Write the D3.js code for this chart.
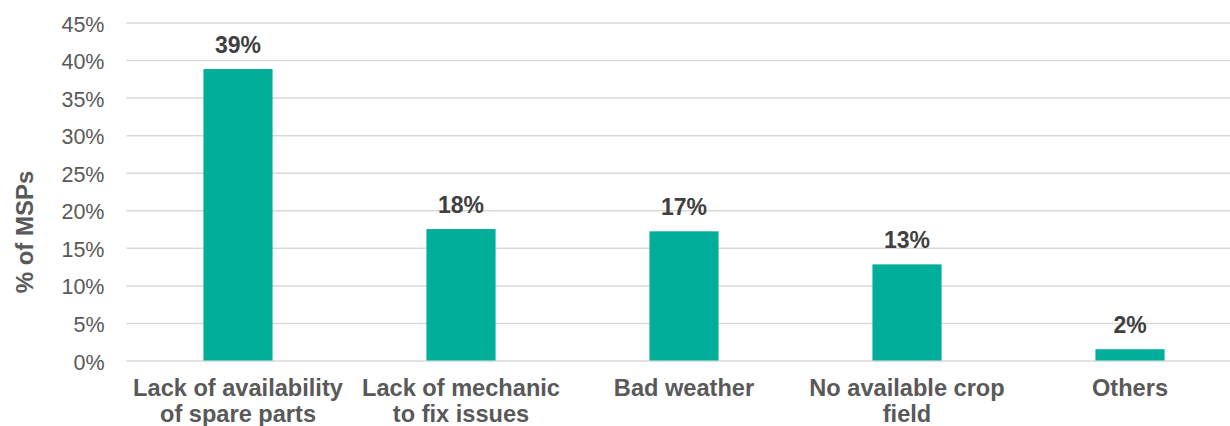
<!DOCTYPE html>
<html>
<head>
<meta charset="utf-8">
<script src="https://cdn.jsdelivr.net/npm/d3@7"></script>
<style>
  body { margin: 0; background: #fff; }
  svg { display: block; font-family: "Liberation Sans", Arial, sans-serif; }
</style>
</head>
<body>
<div id="container"></div>
<script>
let w = 1230;
let h = 426;

// data
let categories = [
  ["Lack of availability", "of spare parts"],
  ["Lack of mechanic", "to fix issues"],
  ["Bad weather"],
  ["No available crop", "field"],
  ["Others"]
];
let values = [38.8, 17.5, 17.2, 12.8, 1.5];
let yTicks = [0, 5, 10, 15, 20, 25, 30, 35, 40, 45];

let viz = d3.select("#container")
  .append("svg")
    .attr("width", w)
    .attr("height", h)
;

// plot area (the right edge runs past the picture, like the source)
let plotLeft = 126.5;
let plotRight = 1241.5;
let plotTop = 22.5;
let plotBottom = 360.5;

let xScale = d3.scaleBand()
  .domain(d3.range(values.length))
  .range([plotLeft, plotRight])
  .paddingInner(0.69)
  .paddingOuter(0.345);

let yScale = d3.scaleLinear().domain([0, 45]).range([plotBottom, plotTop]);

// gridlines + tick labels
let yAxis = d3.axisLeft(yScale)
  .tickValues(yTicks)
  .tickSize(-(plotRight - plotLeft))
  .tickPadding(22)
  .tickFormat(function(d){ return d + "%"; });

let yAxisGroup = viz.append("g")
  .attr("class", "yaxis")
  .attr("transform", "translate(" + plotLeft + ",0)")
  .call(yAxis);

yAxisGroup.select(".domain").remove();
yAxisGroup.selectAll("line")
  .attr("stroke", "#d9d9d9")
  .attr("stroke-width", 1.5);
yAxisGroup.selectAll("text")
  .attr("fill", "#595959")
  .attr("font-size", 21.5)
  .attr("dy", "0.4em");

// axis title
viz.append("text")
  .attr("transform", "translate(33,232) rotate(-90)")
  .attr("text-anchor", "middle")
  .attr("font-size", 24)
  .attr("font-weight", "bold")
  .attr("fill", "#595959")
  .text("% of MSPs");

// bars
viz.append("g").attr("class", "bars")
  .selectAll("rect")
  .data(values)
  .enter()
  .append("rect")
    .attr("x", function(d, i){ return xScale(i); })
    .attr("y", function(d){ return yScale(d); })
    .attr("width", xScale.bandwidth())
    .attr("height", function(d){ return yScale(0) - yScale(d); })
    .attr("fill", "#00ae9a")
;

// value labels
viz.append("g").attr("class", "labels")
  .selectAll("text")
  .data(values)
  .enter()
  .append("text")
    .attr("x", function(d, i){ return xScale(i) + xScale.bandwidth() / 2; })
    .attr("y", function(d){ return yScale(d) - 16.5; })
    .attr("text-anchor", "middle")
    .attr("font-size", 23)
    .attr("font-weight", "bold")
    .attr("fill", "#404040")
    .text(function(d){ return Math.round(d) + "%"; })
;

// category labels, two lines each
let catGroups = viz.append("g").attr("class", "categories")
  .selectAll("text")
  .data(categories)
  .enter()
  .append("text")
    .attr("text-anchor", "middle")
    .attr("font-size", 23.6)
    .attr("font-weight", "bold")
    .attr("fill", "#595959")
;

catGroups.each(function(lines, i){
  let cx = xScale(i) + xScale.bandwidth() / 2;
  d3.select(this).selectAll("tspan")
    .data(lines)
    .enter()
    .append("tspan")
      .attr("x", cx)
      .attr("y", function(d, j){ return 396 + j * 26; })
      .text(function(d){ return d; });
});
</script>
</body>
</html>
